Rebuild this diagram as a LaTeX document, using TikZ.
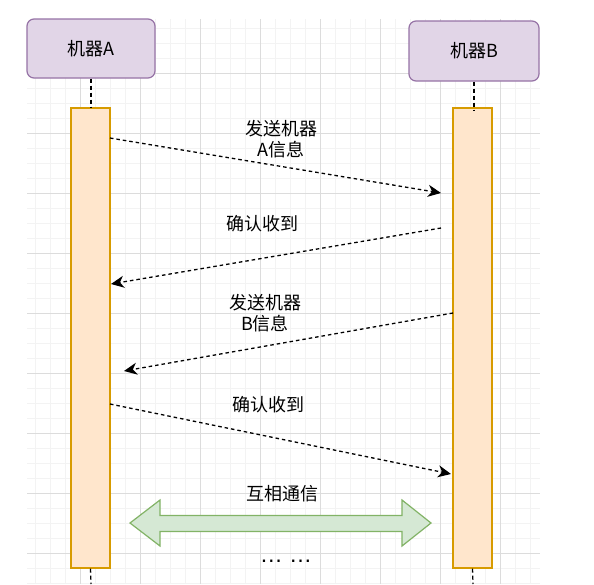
\documentclass[tikz,border=0pt]{standalone}
\usepackage{fontspec}
\setmainfont{Noto Sans CJK SC}
\newfontfamily\latinfont{Liberation Sans}
\usetikzlibrary{arrows.meta,positioning}
\definecolor{hostfill}{HTML}{E1D5E7}
\definecolor{hostline}{HTML}{9673A6}
\definecolor{barfill}{HTML}{FFE6CC}
\definecolor{barline}{HTML}{D79B00}
\definecolor{linkfill}{HTML}{D5E8D4}
\definecolor{linkline}{HTML}{82B366}
\definecolor{gridmajor}{HTML}{DCDCDC}
\definecolor{gridminor}{HTML}{F3F3F3}

\begin{document}
\begin{tikzpicture}[x=1pt,y=-1pt,
    host/.style={draw=hostline, fill=hostfill, rounded corners=7pt, line width=1.2pt, minimum width=128pt, minimum height=59pt, font=\fontsize{18}{21.6}\selectfont},
    bar/.style={draw=barline, fill=barfill, line width=1.2pt, minimum width=39pt, minimum height=460pt, inner sep=0pt},
    msg/.style={font=\fontsize{18}{21.6}\selectfont, align=center, inner sep=1pt},
    arr/.style={-{Stealth[length=13pt, width=12pt, inset=4pt]}, dash pattern=on 3.5pt off 3pt, line width=1.3pt},
    life/.style={dash pattern=on 4pt off 3pt, line width=1.3pt}
]
\useasboundingbox (0,0) rectangle (594,584);
\fill[white] (0,0) rectangle (594,584);

% background grid
\begin{scope}
\clip (27,19) rectangle (540,584);
\foreach \gx in {20,35,...,545} \draw[gridminor, line width=0.8pt] (\gx,19) -- (\gx,584);
\foreach \gy in {13,28,...,590} \draw[gridminor, line width=0.8pt] (27,\gy) -- (540,\gy);
\foreach \gx in {80,140,...,500} \draw[gridmajor, line width=0.8pt] (\gx,19) -- (\gx,584);
\foreach \gy in {73,133,...,553} \draw[gridmajor, line width=0.8pt] (27,\gy) -- (540,\gy);
\end{scope}

% hosts and activation bars
\node[host] (hostA) at (91,48.5) {机器A};
\node[host, minimum width=130pt, minimum height=60pt] (hostB) at (474,51) {机器B};
\node[bar] (barA) at (90.5,338) {};
\node[bar] (barB) at (472.5,338) {};

\coordinate (endA) at (91,584);
\coordinate (endB) at (473,584);
\draw[life] (hostA.south) -- (hostA.south |- barA.north);
\draw[life] (hostB.south) -- ([yshift=-3pt]hostB.south |- barB.north);
\draw[life] (barA.south) -- (endA);
\draw[life] (barB.south) -- (endB);

% messages
\coordinate (m1s) at (110,138);
\coordinate (m1e) at (441,193);
\coordinate (m2s) at (441,228);
\coordinate (m2e) at (111,284);
\coordinate (m3s) at (453,313);
\coordinate (m3e) at (124,371);
\coordinate (m4s) at (110,404);
\coordinate (m4e) at (451,474);

\draw[arr] (m1s) -- (m1e);
\draw[arr] (m2s) -- (m2e);
\draw[arr] (m3s) -- (m3e);
\draw[arr] (m4s) -- (m4e);

\node[msg] (t1) at (281,139) {发送机器\\A信息};
\node[msg] (t2) at (262,224) {确认收到};
\node[msg] (t3) at (265,313) {发送机器\\B信息};
\node[msg] (t4) at (268,405) {确认收到};

% mutual link
\draw[draw=linkline, fill=linkfill, line width=1.2pt]
    (130,523) -- (160,500) -- (160,515.5) -- (402,515.5) -- (402,500) -- (431,523)
    -- (402,546) -- (402,531.5) -- (160,531.5) -- (160,546) -- cycle;
\node[msg] (t5) at (282,494) {互相通信};
\node[msg, font=\latinfont\fontsize{23}{26}\selectfont] (t6) at (286,561) {… …};
\end{tikzpicture}
\end{document}
